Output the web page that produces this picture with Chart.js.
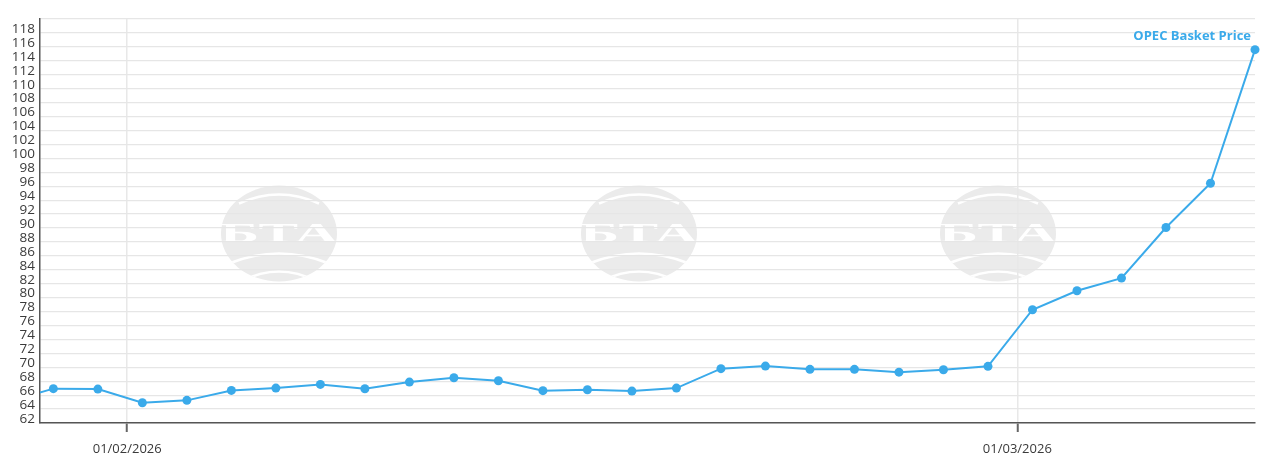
<!DOCTYPE html>
<html>
<head>
<meta charset="utf-8">
<script src="https://cdn.jsdelivr.net/npm/chart.js@4.4.1/dist/chart.umd.min.js"></script>
<style>
html,body{margin:0;padding:0;background:#fff;overflow:hidden}
#wrap{width:1278px;height:467px;position:relative}
canvas{display:block}
</style>
</head>
<body>
<div id="wrap"><canvas id="c" width="1278" height="467"></canvas></div>
<script>
// Trading days (gapless axis: weekends skipped)
const dates = [
  '28/01/2026','29/01/2026','30/01/2026',
  '02/02/2026','03/02/2026','04/02/2026','05/02/2026','06/02/2026',
  '09/02/2026','10/02/2026','11/02/2026','12/02/2026','13/02/2026',
  '16/02/2026','17/02/2026','18/02/2026','19/02/2026','20/02/2026',
  '23/02/2026','24/02/2026','25/02/2026','26/02/2026','27/02/2026',
  '02/03/2026','03/03/2026','04/03/2026','05/03/2026','06/03/2026',
  '09/03/2026'
];
const prices = [
  64.1, 65.93, 65.87,
  63.9, 64.25, 65.68, 66.01, 66.54,
  65.92, 66.87, 67.5, 67.07, 65.64,
  65.78, 65.58, 66.01, 68.8, 69.17,
  68.7, 68.7, 68.3, 68.65, 69.13,
  77.26, 79.99, 81.8, 89.07, 95.42,
  114.6
];
const seriesName = 'OPEC Basket Price';

// x-axis month ticks, placed between trading days (index units)
const xTickLabels = ['01/02/2026', '01/03/2026'];
const xTickAt = [2.66, 22.66];
const xMin = 0.7, xMax = 28;

// y-axis: labels on even values, grid lines on odd values
const yLabelValues = [62,64,66,68,70,72,74,76,78,80,82,84,86,88,90,92,94,96,98,100,102,104,106,108,110,112,114,116,118];
const yGridValues = [61,63,65,67,69,71,73,75,77,79,81,83,85,87,89,91,93,95,97,99,101,103,105,107,109,111,113,115,117,119];
const yMin = 61, yMax = 119;

const BLUE = '#3aaaea';
const FONT = '"Open Sans", "Segoe UI", sans-serif';

const watermark = {
  id: 'watermark',
  beforeDraw(chart) {
    const ctx = chart.ctx;
    const W = chart.width, H = chart.height;
    const centers = [W / 2 - 360, W / 2, W / 2 + 359];
    const cy = H / 2;
    centers.forEach(cx => {
      const rx = 58, ry = 48;
      ctx.save();
      ctx.beginPath();
      ctx.ellipse(cx, cy, rx, ry, 0, 0, Math.PI * 2);
      ctx.fillStyle = '#ebebeb';
      ctx.fill();
      ctx.clip();
      ctx.strokeStyle = '#ffffff';
      ctx.lineWidth = 2.5;
      ctx.beginPath();
      ctx.moveTo(cx - 40, cy - 30);
      ctx.quadraticCurveTo(cx, cy - 48, cx + 40, cy - 30);
      ctx.stroke();
      ctx.beginPath();
      ctx.moveTo(cx - 50, cy + 30);
      ctx.quadraticCurveTo(cx, cy + 10, cx + 50, cy + 30);
      ctx.stroke();
      ctx.beginPath();
      ctx.moveTo(cx - 38, cy + 48);
      ctx.quadraticCurveTo(cx, cy + 28, cx + 38, cy + 48);
      ctx.stroke();
      ctx.restore();
      ctx.save();
      ctx.font = 'bold 28px "Liberation Serif", "DejaVu Serif", serif';
      const tw = ctx.measureText('БТА').width;
      ctx.translate(cx, cy + 1);
      ctx.scale(118 / tw, 1);
      ctx.fillStyle = '#ffffff';
      ctx.textAlign = 'center';
      ctx.textBaseline = 'middle';
      ctx.fillText('БТА', 0, 0);
      ctx.restore();
    });
  }
};

const seriesLabel = {
  id: 'seriesLabel',
  afterDatasetsDraw(chart) {
    const meta = chart.getDatasetMeta(0);
    const pt = meta.data[meta.data.length - 1];
    const ctx = chart.ctx;
    ctx.save();
    ctx.font = 'bold 13px ' + FONT;
    ctx.fillStyle = BLUE;
    ctx.textAlign = 'right';
    ctx.textBaseline = 'middle';
    ctx.fillText(seriesName, pt.x - 4, pt.y - 13);
    ctx.restore();
  }
};

new Chart(document.getElementById('c'), {
  type: 'line',
  data: {
    datasets: [{
      label: seriesName,
      data: prices.map((v, i) => ({ x: i, y: v })),
      borderColor: BLUE,
      backgroundColor: BLUE,
      borderWidth: 2,
      tension: 0,
      pointRadius: 4.5,
      pointHoverRadius: 4.5,
      pointBackgroundColor: BLUE,
      pointBorderWidth: 0,
      clip: { left: 0, top: 8, right: 8, bottom: 0 }
    }]
  },
  options: {
    responsive: false,
    animation: false,
    devicePixelRatio: 1,
    layout: { padding: { top: 19, right: 23, left: 0, bottom: 0 } },
    plugins: {
      legend: { display: false },
      tooltip: { enabled: false }
    },
    scales: {
      x: {
        type: 'linear',
        min: xMin,
        max: xMax,
        afterBuildTicks(s) { s.ticks = xTickAt.map(v => ({ value: v })); },
        afterFit(s) { s.height = 44; s.paddingLeft = 0; s.paddingRight = 0; },
        ticks: {
          autoSkip: false,
          maxRotation: 0,
          color: '#3a3a3a',
          padding: 9,
          font: { family: FONT, size: 13 },
          callback: (v, i) => xTickLabels[i]
        },
        grid: { color: '#e8e8e8', lineWidth: 1.5, tickColor: '#666', tickLength: 9, tickWidth: 2 },
        border: { color: '#555', width: 1.5 }
      },
      y: {
        min: yMin,
        max: yMax,
        afterBuildTicks(s) {
          const t = [];
          for (let v = yMin; v <= yMax; v++) t.push({ value: v });
          s.ticks = t;
        },
        afterFit(s) { s.width = 40; s.paddingTop = 0; s.paddingBottom = 0; },
        ticks: {
          autoSkip: false,
          color: '#3a3a3a',
          padding: 5,
          labelOffset: 3,
          font: { family: FONT, size: 13.5 },
          callback: v => (yLabelValues.includes(v) ? String(v) : '')
        },
        grid: {
          drawTicks: false,
          lineWidth: 1.2,
          color: c => (c.tick && yGridValues.includes(c.tick.value) ? '#e6e6e6' : 'rgba(0,0,0,0)')
        },
        border: { color: '#555', width: 1.5 }
      }
    }
  },
  plugins: [watermark, seriesLabel]
});
</script>
</body>
</html>
